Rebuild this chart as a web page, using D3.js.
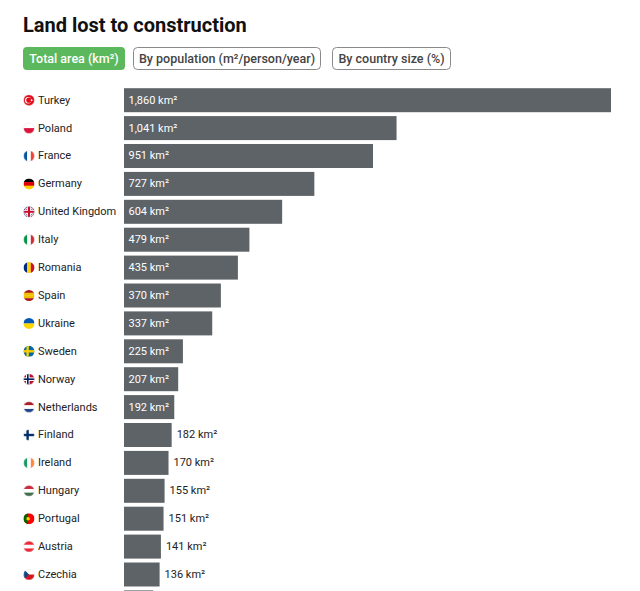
<!DOCTYPE html>
<html>
<head>
<meta charset="utf-8">
<script src="https://cdn.jsdelivr.net/npm/d3@7"></script>
<style>
  html, body { margin: 0; padding: 0; background: #fff; }
  svg { display: block; font-family: Roboto, "Noto Sans", sans-serif; }
</style>
</head>
<body>
<svg id="chart" width="640" height="591"></svg>
<script>
const title = "Land lost to construction";
const tabs = ["Total area (km²)", "By population (m²/person/year)", "By country size (%)"];
const countries = ["Turkey","Poland","France","Germany","United Kingdom","Italy","Romania","Spain","Ukraine","Sweden","Norway","Netherlands","Finland","Ireland","Hungary","Portugal","Austria","Czechia","Belgium"];
const values = [1860,1041,951,727,604,479,435,370,337,225,207,192,182,170,155,151,141,136,112];
const unit = "km²";

// flag stripe definitions: [direction, colors]
const flags = {
  "Turkey": ["turkey", ["#e30a17","#ffffff"]],
  "Poland": ["h", ["#ffffff","#dc143c"]],
  "France": ["v", ["#0055a4","#ffffff","#ef4135"]],
  "Germany": ["h", ["#000000","#dd0000","#ffce00"]],
  "United Kingdom": ["uk", ["#012169","#ffffff","#c8102e"]],
  "Italy": ["v", ["#009246","#ffffff","#ce2b37"]],
  "Romania": ["v", ["#002b7f","#fcd116","#ce1126"]],
  "Spain": ["h", ["#aa151b","#f1bf00","#f1bf00","#aa151b"]],
  "Ukraine": ["h", ["#0057b7","#ffd700"]],
  "Sweden": ["nordic", ["#006aa7","#fecc00"]],
  "Norway": ["nordic2", ["#ba0c2f","#ffffff","#00205b"]],
  "Netherlands": ["h", ["#ae1c28","#ffffff","#21468b"]],
  "Finland": ["nordic", ["#ffffff","#002f6c"]],
  "Ireland": ["v", ["#169b62","#ffffff","#ff883e"]],
  "Hungary": ["h", ["#cd2a3e","#ffffff","#436f4d"]],
  "Portugal": ["portugal", ["#006600","#ff0000","#ffcc00"]],
  "Austria": ["h", ["#ed2939","#ffffff","#ed2939"]],
  "Czechia": ["czech", ["#ffffff","#d7141a","#11457e"]],
  "Belgium": ["v", ["#000000","#fdda24","#ef3340"]]
};

const W = 640, H = 591;
const data = countries.map((c, i) => ({ country: c, value: values[i] }));
const svg = d3.select("#chart");

// Title
svg.append("text").attr("x", 23).attr("y", 32)
  .attr("font-size", 20).attr("font-weight", 700).attr("fill", "#111")
  .text(title);

// Tabs
const tabX = [23, 133, 332];
const tabW = [102, 188, 119];
tabs.forEach((t, i) => {
  const g = svg.append("g").attr("transform", `translate(${tabX[i]},47)`);
  g.append("rect").attr("x", i === 0 ? 0 : 0.5).attr("y", i === 0 ? 0 : 0.5)
    .attr("width", i === 0 ? tabW[i] : tabW[i] - 1).attr("height", i === 0 ? 23 : 22)
    .attr("rx", 4)
    .attr("fill", i === 0 ? "#5cb85c" : "#fff")
    .attr("stroke", i === 0 ? "none" : "#8a8a8a");
  g.append("text").attr("x", tabW[i] / 2).attr("y", 16)
    .attr("text-anchor", "middle").attr("font-size", 12.5).attr("font-weight", 500)
    .attr("fill", i === 0 ? "#fff" : "#444").text(t);
});

// Scales
const step = 27.9;
const y0 = 86.25;
const y = d3.scaleBand().domain(countries)
  .range([y0, y0 + countries.length * step])
  .paddingInner(0.14).paddingOuter(0.07);
const x = d3.scaleLinear().domain([0, 1860]).range([124, 611]);

const rows = svg.append("g").selectAll("g").data(data).join("g");

rows.append("rect")
  .attr("x", x(0)).attr("y", d => y(d.country))
  .attr("width", d => x(d.value) - x(0)).attr("height", y.bandwidth())
  .attr("fill", "#5e6367");

// rows whose text would fall below the visible frame keep only their bar
const visible = data.filter(d => y(d.country) + y.bandwidth() / 2 + 6 < H);
const vrows = rows.filter(d => visible.includes(d));

const inside = d => x(d.value) - x(0) > 49;
vrows.append("text")
  .attr("x", d => inside(d) ? x(0) + 4.5 : x(d.value) + 5)
  .attr("y", d => y(d.country) + y.bandwidth() / 2 + 0.5)
  .attr("dominant-baseline", "middle")
  .attr("font-size", 11)
  .attr("fill", d => inside(d) ? "#fff" : "#222")
  .text(d => d3.format(",")(d.value) + " " + unit);

// Country names
vrows.append("text")
  .attr("x", 38)
  .attr("y", d => y(d.country) + y.bandwidth() / 2 + 0.5)
  .attr("dominant-baseline", "middle")
  .attr("font-size", 11)
  .attr("fill", "#222")
  .text(d => d.country);

// Flags
const defs = svg.append("defs");
const r = 5.5, fx = 29;
vrows.each(function(d, i) {
  const cy = y(d.country) + y.bandwidth() / 2;
  const id = "clip" + i;
  defs.append("clipPath").attr("id", id).append("circle")
    .attr("cx", fx).attr("cy", cy).attr("r", r);
  const g = d3.select(this).append("g").attr("clip-path", `url(#${id})`);
  const [type, cols] = flags[d.country];
  const L = fx - r, T = cy - r, S = 2 * r;
  if (type === "h") {
    cols.forEach((c, k) => g.append("rect").attr("x", L).attr("y", T + k * S / cols.length)
      .attr("width", S).attr("height", S / cols.length + 0.2).attr("fill", c));
  } else if (type === "v") {
    cols.forEach((c, k) => g.append("rect").attr("y", T).attr("x", L + k * S / cols.length)
      .attr("height", S).attr("width", S / cols.length + 0.2).attr("fill", c));
  } else if (type === "turkey") {
    g.append("rect").attr("x", L).attr("y", T).attr("width", S).attr("height", S).attr("fill", cols[0]);
    g.append("circle").attr("cx", fx - 0.8).attr("cy", cy).attr("r", 3.2).attr("fill", cols[1]);
    g.append("circle").attr("cx", fx - 0.1).attr("cy", cy).attr("r", 2.6).attr("fill", cols[0]);
    g.append("circle").attr("cx", fx + 2.6).attr("cy", cy).attr("r", 0.9).attr("fill", cols[1]);
  } else if (type === "uk") {
    g.append("rect").attr("x", L).attr("y", T).attr("width", S).attr("height", S).attr("fill", cols[0]);
    g.append("path").attr("d", `M${L},${T}L${L+S},${T+S}M${L+S},${T}L${L},${T+S}`)
      .attr("stroke", cols[1]).attr("stroke-width", 2.2);
    g.append("path").attr("d", `M${L},${T}L${L+S},${T+S}M${L+S},${T}L${L},${T+S}`)
      .attr("stroke", cols[2]).attr("stroke-width", 0.8);
    g.append("rect").attr("x", fx - 1.8).attr("y", T).attr("width", 3.6).attr("height", S).attr("fill", cols[1]);
    g.append("rect").attr("x", L).attr("y", cy - 1.8).attr("width", S).attr("height", 3.6).attr("fill", cols[1]);
    g.append("rect").attr("x", fx - 1).attr("y", T).attr("width", 2).attr("height", S).attr("fill", cols[2]);
    g.append("rect").attr("x", L).attr("y", cy - 1).attr("width", S).attr("height", 2).attr("fill", cols[2]);
  } else if (type === "nordic") {
    g.append("rect").attr("x", L).attr("y", T).attr("width", S).attr("height", S).attr("fill", cols[0]);
    g.append("rect").attr("x", fx - 2.6).attr("y", T).attr("width", 2.4).attr("height", S).attr("fill", cols[1]);
    g.append("rect").attr("x", L).attr("y", cy - 1.2).attr("width", S).attr("height", 2.4).attr("fill", cols[1]);
  } else if (type === "nordic2") {
    g.append("rect").attr("x", L).attr("y", T).attr("width", S).attr("height", S).attr("fill", cols[0]);
    g.append("rect").attr("x", fx - 3).attr("y", T).attr("width", 3.6).attr("height", S).attr("fill", cols[1]);
    g.append("rect").attr("x", L).attr("y", cy - 1.8).attr("width", S).attr("height", 3.6).attr("fill", cols[1]);
    g.append("rect").attr("x", fx - 2).attr("y", T).attr("width", 1.6).attr("height", S).attr("fill", cols[2]);
    g.append("rect").attr("x", L).attr("y", cy - 0.8).attr("width", S).attr("height", 1.6).attr("fill", cols[2]);
  } else if (type === "portugal") {
    g.append("rect").attr("x", L).attr("y", T).attr("width", S).attr("height", S).attr("fill", cols[1]);
    g.append("rect").attr("x", L).attr("y", T).attr("width", S * 0.42).attr("height", S).attr("fill", cols[0]);
    g.append("circle").attr("cx", L + S * 0.42).attr("cy", cy).attr("r", 1.8).attr("fill", cols[2]);
  } else if (type === "czech") {
    g.append("rect").attr("x", L).attr("y", T).attr("width", S).attr("height", S / 2).attr("fill", cols[0]);
    g.append("rect").attr("x", L).attr("y", cy).attr("width", S).attr("height", S / 2).attr("fill", cols[1]);
    g.append("path").attr("d", `M${L},${T}L${fx},${cy}L${L},${T+S}Z`).attr("fill", cols[2]);
  }
  if (cols.includes("#ffffff")) {
    d3.select(this).append("circle").attr("cx", fx).attr("cy", cy).attr("r", r - 0.2)
      .attr("fill", "none").attr("stroke", "#ddd").attr("stroke-width", 0.4);
  }
});
</script>
</body>
</html>
